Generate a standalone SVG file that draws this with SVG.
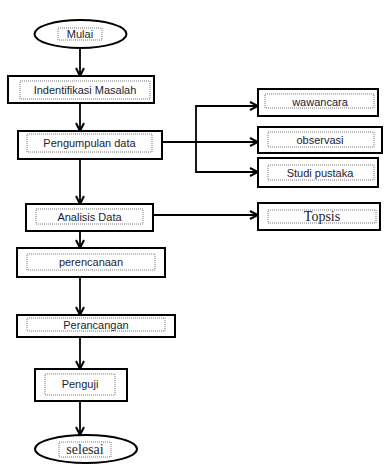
<svg xmlns="http://www.w3.org/2000/svg" width="386" height="465" viewBox="0 0 386 465">
<style>
.box{fill:#fff;stroke:#000;stroke-width:2}
.inner{fill:none;stroke:#777;stroke-width:1;stroke-dasharray:1 1}
.t{font-family:"Liberation Sans",Arial,sans-serif;font-size:11px;fill:#1c1c30;text-anchor:middle;dominant-baseline:central}
.s{font-family:"Liberation Serif","Times New Roman",serif;font-size:14px;fill:#1c1c30;text-anchor:middle;dominant-baseline:central}
.c{fill:none;stroke:#000;stroke-width:1.8}
</style>
<defs>
<marker id="ah" viewBox="0 0 10 10" refX="9" refY="5" markerWidth="10" markerHeight="10" markerUnits="userSpaceOnUse" orient="auto">
<path d="M1,1 L9,5 L1,9" fill="none" stroke="#000" stroke-width="2"/>
</marker>
</defs>
<rect width="386" height="465" fill="#fff"/>
<g id="connectors">
<line class="c" x1="80" y1="48" x2="80" y2="76" marker-end="url(#ah)"/>
<line class="c" x1="80" y1="103" x2="80" y2="131" marker-end="url(#ah)"/>
<line class="c" x1="80" y1="159" x2="80" y2="204" marker-end="url(#ah)"/>
<line class="c" x1="80" y1="231" x2="80" y2="248" marker-end="url(#ah)"/>
<line class="c" x1="80" y1="277" x2="80" y2="315" marker-end="url(#ah)"/>
<line class="c" x1="80" y1="337" x2="80" y2="369" marker-end="url(#ah)"/>
<line class="c" x1="80" y1="401" x2="80" y2="435" marker-end="url(#ah)"/>
<line class="c" x1="162" y1="142" x2="258" y2="142" marker-end="url(#ah)"/>
<path class="c" d="M196,142 V106 H258" marker-end="url(#ah)"/>
<path class="c" d="M196,142 V172 H258" marker-end="url(#ah)"/>
<line class="c" x1="153" y1="215" x2="258" y2="215" marker-end="url(#ah)"/>
</g>
<g id="mulai">
<ellipse class="box" cx="80.5" cy="34" rx="46" ry="14"/>
<rect class="inner" x="58" y="28" width="44" height="12"/>
<text class="t" x="80" y="34">Mulai</text>
</g>
<g id="identifikasi">
<rect class="box" x="8" y="76" width="146" height="27"/>
<rect class="inner" x="20" y="81" width="130" height="18"/>
<text class="t" x="85" y="90">Indentifikasi Masalah</text>
</g>
<g id="pengumpulan">
<rect class="box" x="18" y="131" width="144" height="28"/>
<rect class="inner" x="27" y="134" width="125" height="18"/>
<text class="t" x="89.5" y="143">Pengumpulan data</text>
</g>
<g id="wawancara">
<rect class="box" x="258" y="89" width="120" height="27"/>
<rect class="inner" x="265" y="94" width="109" height="14"/>
<text class="t" x="320" y="101.5">wawancara</text>
</g>
<g id="observasi">
<rect class="box" x="258" y="127" width="124" height="26"/>
<rect class="inner" x="268" y="132" width="106" height="15"/>
<text class="t" x="320" y="140">observasi</text>
</g>
<g id="studi">
<rect class="box" x="258" y="158" width="120" height="29"/>
<rect class="inner" x="268" y="165" width="106" height="15"/>
<text class="t" x="320" y="172.5">Studi pustaka</text>
</g>
<g id="analisis">
<rect class="box" x="26" y="204" width="127" height="27"/>
<rect class="inner" x="36" y="209" width="107" height="15"/>
<text class="t" x="89.5" y="216.5">Analisis Data</text>
</g>
<g id="topsis">
<rect class="box" x="258" y="203" width="122" height="27"/>
<rect class="inner" x="268" y="210" width="108" height="13"/>
<text class="s" x="322" y="216.5">Topsis</text>
</g>
<g id="perencanaan">
<rect class="box" x="17" y="248" width="148" height="29"/>
<rect class="inner" x="27" y="254" width="128" height="16"/>
<text class="t" x="91" y="262">perencanaan</text>
</g>
<g id="perancangan">
<rect class="box" x="17" y="315" width="158" height="22"/>
<rect class="inner" x="27" y="318" width="138" height="13"/>
<text class="t" x="96" y="325">Perancangan</text>
</g>
<g id="penguji">
<rect class="box" x="35" y="369" width="92" height="32"/>
<rect class="inner" x="45" y="374" width="70" height="21"/>
<text class="t" x="80" y="384">Penguji</text>
</g>
<g id="selesai">
<ellipse class="box" cx="86" cy="449" rx="51" ry="14"/>
<rect class="inner" x="59" y="442" width="52" height="15"/>
<text class="s" x="85" y="449.5">selesai</text>
</g>
</svg>
